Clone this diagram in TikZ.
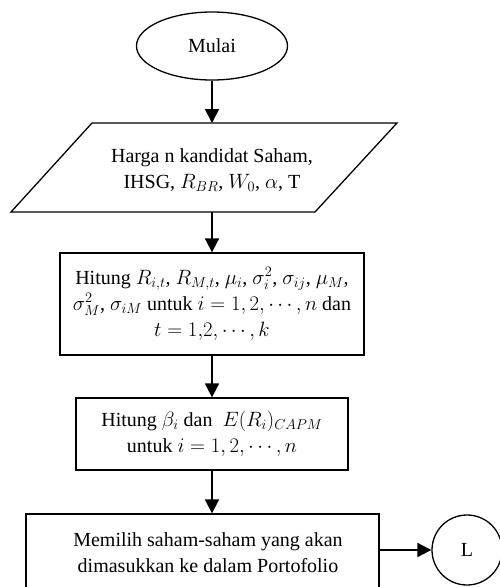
\documentclass[tikz,border=0pt]{standalone}
\usepackage{fontspec}
\setmainfont{Liberation Serif}
\usetikzlibrary{shapes.geometric,arrows.meta}
\begin{document}
\begin{tikzpicture}[x=1pt,y=-1pt,
  box/.style={draw,line width=1.3pt,rectangle,inner sep=0pt,align=center},
  flow/.style={line width=1.8pt,-{Triangle[width=14pt,length=14pt]}},
  lbl/.style={align=center,inner sep=0pt,font=\fontsize{20}{26}\selectfont}]
\useasboundingbox (0,0) rectangle (499,587);
\node[draw,ellipse,line width=1.3pt,minimum width=151pt,minimum height=68pt,inner sep=0pt,lbl] (start) at (212,46) {Mulai};
% input parallelogram
\draw[line width=1.3pt] (92,123) -- (397,123) -- (315,212) -- (11,212) -- cycle;
\coordinate (intop) at (212,123);
\coordinate (inbot) at (212,212);
\node[lbl] (input) at (212,170) {Harga n kandidat Saham,\\IHSG, $R_{BR}$, $W_0$, $\alpha$, T};
\node[box,lbl,minimum width=304pt,minimum height=102pt] (calc) at (212,304)
  {Hitung $R_{i,t}$, $R_{M,t}$, $\mu_i$, $\sigma_i^2$, $\sigma_{ij}$, $\mu_M$,\\
   $\sigma_M^2$, $\sigma_{iM}$ untuk $i=1,2,\cdots,n$ dan\\
   $t=1{,}2,\cdots,k$};
\node[box,lbl,minimum width=272pt,minimum height=72pt] (beta) at (212,434)
  {Hitung $\beta_i$ dan \ $E(R_i)_{CAPM}$\\untuk $i=1,2,\cdots,n$};
\node[box,lbl,minimum width=353pt,minimum height=86pt,text depth=0pt] (sel) at (202.5,557) {};
\node[lbl] (seltext) at (208,553) {Memilih saham-saham yang akan\\dimasukkan ke dalam Portofolio};
\node[draw,circle,line width=1.3pt,minimum size=70pt,inner sep=0pt,lbl] (L) at (467,550) {L};
\draw[flow] (start.south) -- (intop);
\draw[flow] (inbot) -- (calc.north);
\draw[flow] (calc.south) -- (beta.north);
\draw[flow] (beta.south) -- (sel.north -| beta.south);
\draw[flow] (sel.east |- L.west) -- (L.west);
\end{tikzpicture}
\end{document}
